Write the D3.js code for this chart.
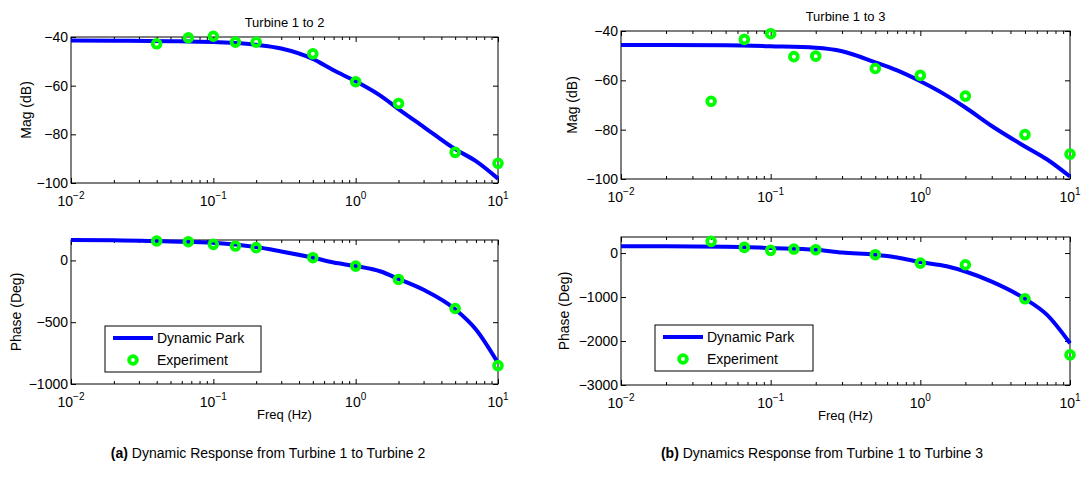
<!DOCTYPE html>
<html>
<head>
<meta charset="utf-8">
<script src="https://cdn.jsdelivr.net/npm/d3@7"></script>
<style>
  body { margin: 0; background: #fff; }
  svg { font-family: "Liberation Sans", Arial, Helvetica, sans-serif; }
</style>
</head>
<body>
<div id="vis"></div>
<script>
// model frequency grid (Hz) and experiment frequencies
const freqModel = [0.01, 0.02, 0.05, 0.1, 0.2, 0.3, 0.5, 0.7, 1, 1.5, 2, 3, 5, 7, 10];
const freqExp = [0.04, 0.0667, 0.1, 0.1429, 0.2, 0.5, 1, 2, 5, 10];

// Turbine 1 to 2
const magModel12 = [-41.4, -41.5, -41.7, -42.1, -43.2, -44.7, -49, -53.7, -58.2, -64.2, -69.6, -76.9, -86.1, -91, -98.2];
const magExp12 = [-42.8, -40.3, -39.7, -42.1, -42.1, -46.9, -58.4, -67.3, -87.4, -91.9];
const phaseModel12 = [165, 163, 153, 143, 108, 72, 22, -17, -46, -90, -150, -238, -395, -559, -830];
const phaseExp12 = [157, 151, 130, 116, 103, 22, -46, -154, -389, -851];

// Turbine 1 to 3
const magModel13 = [-45.7, -45.7, -45.8, -46.2, -46.8, -48.2, -52.7, -56, -60.4, -66.2, -71, -78.5, -86.8, -92, -99];
const magExp13 = [-68.5, -43.4, -41.1, -50.4, -50.2, -55.2, -58, -66.4, -82, -89.9];
const phaseModel13 = [152, 152, 145, 114, 76, 10, -38, -100, -205, -300, -420, -650, -1040, -1400, -2050];
const phaseExp13 = [266, 129, 61, 91, 76, -38, -228, -266, -1040, -2316];

const xDecades = [0.01, 0.1, 1, 10];
const xExponents = ["\u22122", "\u22121", "0", "1"];
const magTicks = [-100, -80, -60, -40];
const phaseTicks12 = [-1000, -500, 0];
const phaseTicks13 = [-3000, -2000, -1000, 0];

const seriesNames = ["Dynamic Park", "Experiment"];

const width = 1082, height = 485;
const svg = d3.select('#vis').append('svg')
  .attr('width', width)
  .attr('height', height);

const minorTicks = [];
for (let d = 0.01; d < 10; d *= 10) {
  for (let k = 2; k <= 9; k++) minorTicks.push(+(d * k).toPrecision(3));
}

const fmt = v => (v < 0 ? "\u2212" : "") + Math.abs(v);

function panel(p) {
  const g = svg.append('g').attr('transform', 'translate(' + p.left + ',' + p.top + ')');
  const w = p.width, h = p.height;
  const x = d3.scaleLog().domain([0.01, 10]).range([0, w]);
  const y = d3.scaleLinear().domain(p.yDomain).range([h, 0]);

  // minor ticks (top and bottom, inside)
  g.append('g').attr('transform', 'translate(0,' + h + ')')
    .call(d3.axisBottom(x).tickValues(minorTicks).tickSize(-3).tickFormat(''));
  g.append('g')
    .call(d3.axisTop(x).tickValues(minorTicks).tickSize(-3).tickFormat(''));
  // major ticks
  g.append('g').attr('transform', 'translate(0,' + h + ')')
    .call(d3.axisBottom(x).tickValues(xDecades).tickSize(-5).tickFormat(''));
  g.append('g')
    .call(d3.axisTop(x).tickValues(xDecades).tickSize(-5).tickFormat(''));
  g.append('g')
    .call(d3.axisLeft(y).tickValues(p.yTicks).tickSize(-5).tickPadding(3).tickFormat(fmt))
    .selectAll('text').style('font-size', '14px').attr('fill', '#000');
  g.append('g').attr('transform', 'translate(' + w + ',0)')
    .call(d3.axisRight(y).tickValues(p.yTicks).tickSize(-5).tickFormat(''));
  g.selectAll('.domain').remove();
  g.selectAll('.tick line').attr('stroke', '#000');

  // x tick labels 10^n
  const lab = g.append('g').selectAll('text').data(xDecades).enter().append('text')
    .attr('x', d => x(d))
    .attr('y', h + 23)
    .attr('text-anchor', 'middle')
    .style('font-size', '14px');
  lab.append('tspan').text('10');
  lab.append('tspan').text((d, i) => xExponents[i])
    .attr('dy', -7).style('font-size', '10px');

  // frame
  g.append('rect').attr('width', w).attr('height', h)
    .attr('fill', 'none').attr('stroke', '#000').attr('stroke-width', 1);

  // model line
  const line = d3.line()
    .x((d, i) => x(freqModel[i]))
    .y(d => y(d))
    .curve(d3.curveMonotoneX);
  g.append('path')
    .attr('d', line(p.model))
    .attr('fill', 'none')
    .attr('stroke', '#0000ff')
    .attr('stroke-width', 4);

  // experiment markers
  g.selectAll('circle.exp')
    .data(p.exp)
    .enter()
    .append('circle')
    .attr('class', 'exp')
    .attr('cx', (d, i) => x(freqExp[i]))
    .attr('cy', d => y(d))
    .attr('r', 3.9)
    .attr('fill', 'none')
    .attr('stroke', '#00ff00')
    .attr('stroke-width', 3.8);

  // y label
  g.append('text')
    .attr('transform', 'translate(' + p.yLabelX + ',' + (h / 2) + ') rotate(-90)')
    .attr('text-anchor', 'middle')
    .style('font-size', '14px')
    .text(p.yLabel);

  if (p.title) {
    g.append('text').attr('x', w / 2).attr('y', p.titleY)
      .attr('text-anchor', 'middle').style('font-size', '13px').text(p.title);
  }
  if (p.xLabel) {
    g.append('text').attr('x', w / 2).attr('y', h + 35)
      .attr('text-anchor', 'middle').style('font-size', '13px').text(p.xLabel);
  }
  if (p.legend) {
    const L = p.legend;
    const lg = g.append('g').attr('transform', 'translate(' + L.x + ',' + L.y + ')');
    lg.append('rect').attr('width', L.w).attr('height', 46)
      .attr('fill', '#fff').attr('stroke', '#000').attr('stroke-width', 1);
    lg.append('line').attr('x1', 8).attr('x2', 48).attr('y1', 12).attr('y2', 12)
      .attr('stroke', '#0000ff').attr('stroke-width', 4);
    lg.append('circle').attr('cx', 28).attr('cy', 34).attr('r', 3.9)
      .attr('fill', 'none').attr('stroke', '#00ff00').attr('stroke-width', 3.8);
    lg.selectAll('text.leg').data(seriesNames).enter().append('text')
      .attr('class', 'leg')
      .attr('x', 52).attr('y', (d, i) => 17 + i * 22)
      .style('font-size', '14px').text(d => d);
  }
}

panel({left: 71, top: 37, width: 427, height: 146, yDomain: [-100, -40], yTicks: magTicks,
  model: magModel12, exp: magExp12, yLabel: 'Mag (dB)', yLabelX: -40, title: 'Turbine 1 to 2', titleY: -10});
panel({left: 71, top: 240, width: 427, height: 144, yDomain: [-1000, 165], yTicks: phaseTicks12,
  model: phaseModel12, exp: phaseExp12, yLabel: 'Phase (Deg)', yLabelX: -50, xLabel: 'Freq (Hz)',
  legend: {x: 34, y: 86, w: 156}});
panel({left: 621, top: 31, width: 449, height: 148, yDomain: [-100, -40], yTicks: magTicks,
  model: magModel13, exp: magExp13, yLabel: 'Mag (dB)', yLabelX: -44, title: 'Turbine 1 to 3', titleY: -10});
panel({left: 621, top: 237, width: 449, height: 148, yDomain: [-3000, 365], yTicks: phaseTicks13,
  model: phaseModel13, exp: phaseExp13, yLabel: 'Phase (Deg)', yLabelX: -52, xLabel: 'Freq (Hz)',
  legend: {x: 34, y: 88, w: 158}});

// sub-figure captions
const captions = [
  {x: 268, tag: '(a)', text: ' Dynamic Response from Turbine 1 to Turbine 2'},
  {x: 822, tag: '(b)', text: ' Dynamics Response from Turbine 1 to Turbine 3'}
];
const cap = svg.selectAll('text.cap').data(captions).enter().append('text')
  .attr('class', 'cap')
  .attr('x', d => d.x).attr('y', 458)
  .attr('text-anchor', 'middle')
  .style('font-size', '14px');
cap.append('tspan').style('font-weight', 'bold').text(d => d.tag);
cap.append('tspan').text(d => d.text);
</script>
</body>
</html>
